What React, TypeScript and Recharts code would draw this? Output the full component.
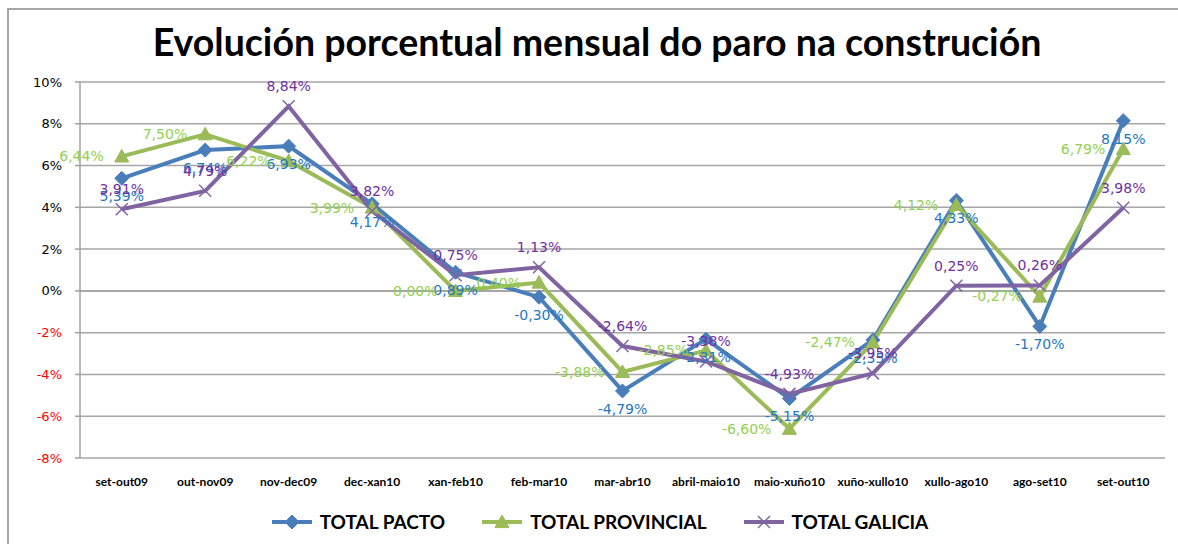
import React from 'react';
import { LineChart, Line, XAxis, YAxis, CartesianGrid, ReferenceLine, Legend, LabelList } from 'recharts';

const categories = ['set-out09', 'out-nov09', 'nov-dec09', 'dec-xan10', 'xan-feb10', 'feb-mar10', 'mar-abr10', 'abril-maio10', 'maio-xuño10', 'xuño-xullo10', 'xullo-ago10', 'ago-set10', 'set-out10'];
const totalPacto = [5.39, 6.74, 6.93, 4.17, 0.89, -0.30, -4.79, -2.31, -5.15, -2.35, 4.33, -1.70, 8.15];
const totalProvincial = [6.44, 7.50, 6.22, 3.99, 0.00, 0.40, -3.88, -2.85, -6.60, -2.47, 4.12, -0.27, 6.79];
const totalGalicia = [3.91, 4.79, 8.84, 3.82, 0.75, 1.13, -2.64, -3.38, -4.93, -3.95, 0.25, 0.26, 3.98];
const yTicks = [-8, -6, -4, -2, 0, 2, 4, 6, 8, 10];
const title = 'Evolución porcentual mensual do paro na construción';

const seriesDefs = [
  { key: 'pacto', name: 'TOTAL PACTO', color: '#4a7ebb', labelColor: '#1f78c1', marker: 'diamond' },
  { key: 'provincial', name: 'TOTAL PROVINCIAL', color: '#9bbb59', labelColor: '#92d050', marker: 'triangle' },
  { key: 'galicia', name: 'TOTAL GALICIA', color: '#8064a2', labelColor: '#7030a0', marker: 'x' },
];

const data = categories.map((cat, i) => ({
  cat,
  pacto: totalPacto[i],
  provincial: totalProvincial[i],
  galicia: totalGalicia[i],
}));

const FONT = 'Lato, "Open Sans", sans-serif';
const LFONT = '"DejaVu Sans", Verdana, sans-serif';
const fmt = (v: any) => Number(v).toFixed(2).replace('.', ',') + '%';

function Marker({ cx, cy, type, color }: any) {
  if (cx == null || cy == null) return null;
  if (type === 'diamond') {
    const r = 7;
    return <polygon points={`${cx},${cy - r} ${cx + r},${cy} ${cx},${cy + r} ${cx - r},${cy}`} fill={color} stroke={color} strokeWidth={1} />;
  }
  if (type === 'triangle') {
    const r = 7;
    return <polygon points={`${cx},${cy - r} ${cx + r},${cy + r * 0.8} ${cx - r},${cy + r * 0.8}`} fill={color} stroke={color} strokeWidth={1} />;
  }
  const r = 6;
  return (
    <g stroke={color} strokeWidth={1.5}>
      <line x1={cx - r} y1={cy - r} x2={cx + r} y2={cy + r} />
      <line x1={cx - r} y1={cy + r} x2={cx + r} y2={cy - r} />
    </g>
  );
}

const YTick = ({ x, y, payload }: any) => (
  <text x={x} y={y} dy="0.35em" textAnchor="end" fontSize={13} fontFamily={LFONT} fill={payload.value < 0 ? '#ff0000' : '#000'}>
    {payload.value + '%'}
  </text>
);

const XTick = ({ x, y, payload }: any) => (
  <text x={x} y={y} dy="0.71em" textAnchor="middle" fontSize={12} fontWeight={700} fontFamily={FONT} fill="#000">
    {payload.value}
  </text>
);

const LegendContent = () => (
  <div style={{ display: 'flex', justifyContent: 'center', alignItems: 'center', gap: 36, fontFamily: FONT, fontWeight: 700, fontSize: 19, paddingLeft: 14 }}>
    {seriesDefs.map((s) => (
      <div key={s.key} style={{ display: 'flex', alignItems: 'center', gap: 7 }}>
        <svg width={42} height={18}>
          <line x1={1} y1={9} x2={41} y2={9} stroke={s.color} strokeWidth={4} />
          <Marker cx={21} cy={9} type={s.marker} color={s.color} />
        </svg>
        <span>{s.name}</span>
      </div>
    ))}
  </div>
);

export default function App() {
  return (
    <div style={{ position: 'absolute', left: 0, top: 0, width: 1178, height: 544, overflow: 'hidden', background: '#fff' }}>
      <div style={{ position: 'absolute', left: 7, top: 8, width: 1300, height: 700, border: '2px solid #a6a6a6' }} />
      <div style={{ position: 'absolute', left: 0, top: 17, width: 1178, paddingLeft: 16, boxSizing: 'border-box', textAlign: 'center', fontFamily: FONT, fontWeight: 700, fontSize: 37.5, lineHeight: '50px', color: '#000' }}>
        {title}
      </div>
      <div style={{ position: 'absolute', left: 0, top: 0 }}>
        <LineChart width={1178} height={544} data={data} margin={{ top: 82, right: 13, left: 20, bottom: 2 }}>
          <CartesianGrid horizontal vertical={false} stroke="#a6a6a6" strokeWidth={1.5} />
          <XAxis dataKey="cat" scale="band" axisLine={false} tickLine={false} tickSize={0} tickMargin={19} height={52} tick={<XTick />} interval={0} />
          <YAxis domain={[-8, 10]} ticks={yTicks} width={60} axisLine={{ stroke: '#a0a0a0', strokeWidth: 1.5 }} tickLine={{ stroke: '#a0a0a0', strokeWidth: 1.5 }} tickSize={5} tickMargin={13} tick={<YTick />} interval={0} />
          <ReferenceLine y={0} stroke="#a0a0a0" strokeWidth={1.5} />
          <Legend verticalAlign="bottom" height={32} content={<LegendContent />} />
          <Line dataKey="pacto" name="TOTAL PACTO" stroke="#4a7ebb" strokeWidth={4} isAnimationActive={false}
            dot={(p: any) => <Marker key={'a' + p.index} cx={p.cx} cy={p.cy} type="diamond" color="#4a7ebb" />} activeDot={false}>
            <LabelList dataKey="pacto" position="bottom" offset={13} formatter={fmt} fill="#1f78c1" fontSize={14} fontFamily={LFONT} />
          </Line>
          <Line dataKey="provincial" name="TOTAL PROVINCIAL" stroke="#9bbb59" strokeWidth={4} isAnimationActive={false}
            dot={(p: any) => <Marker key={'b' + p.index} cx={p.cx} cy={p.cy} type="triangle" color="#9bbb59" />} activeDot={false}>
            <LabelList dataKey="provincial" position="left" offset={18} formatter={fmt} fill="#92d050" fontSize={14} fontFamily={LFONT} />
          </Line>
          <Line dataKey="galicia" name="TOTAL GALICIA" stroke="#8064a2" strokeWidth={4} isAnimationActive={false}
            dot={(p: any) => <Marker key={'c' + p.index} cx={p.cx} cy={p.cy} type="x" color="#8064a2" />} activeDot={false}>
            <LabelList dataKey="galicia" position="top" offset={15} formatter={fmt} fill="#7030a0" fontSize={14} fontFamily={LFONT} />
          </Line>
        </LineChart>
      </div>
    </div>
  );
}
